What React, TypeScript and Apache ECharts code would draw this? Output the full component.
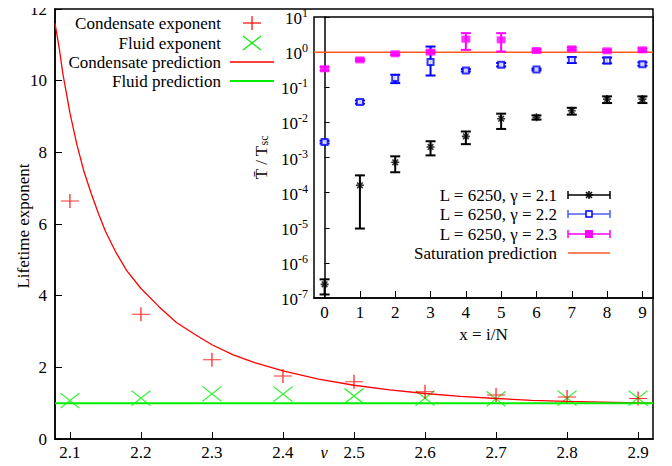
import { useEffect, useRef } from 'react';
import * as echarts from 'echarts';

const FONT = "'Liberation Serif', 'Times New Roman', Times, serif";

// ---- main plot data ----
const gammaValues = [2.1, 2.2, 2.3, 2.4, 2.5, 2.6, 2.7, 2.8, 2.9];
const condensateExponent = [6.64, 3.48, 2.21, 1.76, 1.6, 1.32, 1.23, 1.17, 1.13];
const fluidExponent = [1.07, 1.14, 1.26, 1.25, 1.2, 1.14, 1.12, 1.14, 1.14];
const predictionGamma = [2.079, 2.085, 2.09, 2.095, 2.1, 2.11, 2.12, 2.13, 2.14, 2.15, 2.165, 2.18, 2.2, 2.225, 2.25, 2.275, 2.3, 2.33, 2.36, 2.4, 2.45, 2.5, 2.55, 2.6, 2.65, 2.7, 2.75, 2.8, 2.85, 2.9, 2.921];
const condensatePrediction = [11.6, 10.9, 10.2, 9.65, 9.1, 8.2, 7.45, 6.85, 6.3, 5.8, 5.2, 4.7, 4.2, 3.7, 3.25, 2.93, 2.63, 2.35, 2.13, 1.9, 1.67, 1.5, 1.37, 1.27, 1.19, 1.13, 1.08, 1.05, 1.03, 1.01, 1.0];
const fluidPrediction = 1.0;
const mainYTicks = [0, 2, 4, 6, 8, 10, 12];
const GAMMA_MIN = 2.079;
const GAMMA_MAX = 2.921;

// ---- inset data ----
const insetX = [0, 1, 2, 3, 4, 5, 6, 7, 8, 9];
const insetYTicks = [1e-7, 1e-6, 1e-5, 1e-4, 1e-3, 1e-2, 1e-1, 1, 10];
const g21Value = [2.45e-7, 1.62e-4, 7.3e-4, 2.0e-3, 4.0e-3, 1.27e-2, 1.39e-2, 2.15e-2, 4.6e-2, 4.6e-2];
const g21Low = [1.26e-7, 9.5e-6, 3.8e-4, 1.15e-3, 2.4e-3, 6.5e-3, 1.2e-2, 1.66e-2, 3.55e-2, 3.55e-2];
const g21High = [3.4e-7, 3.1e-4, 1.08e-3, 2.9e-3, 5.5e-3, 1.77e-2, 1.58e-2, 2.6e-2, 5.5e-2, 5.5e-2];
const g22Value = [2.76e-3, 3.8e-2, 0.182, 0.52, 0.3, 0.435, 0.32, 0.6, 0.58, 0.455];
const g22Low = [2.5e-3, 3.4e-2, 0.131, 0.216, 0.28, 0.39, 0.3, 0.49, 0.48, 0.41];
const g22High = [3.0e-3, 4.2e-2, 0.227, 1.44, 0.33, 0.49, 0.34, 0.72, 0.7, 0.51];
const g23Value = [0.335, 0.6, 0.895, 1.0, 2.34, 2.23, 1.11, 1.24, 1.09, 1.16];
const g23Low = [0.3, 0.56, 0.83, 0.92, 1.16, 1.04, 1.03, 1.14, 1.0, 1.06];
const g23High = [0.38, 0.65, 0.97, 1.1, 3.47, 3.47, 1.2, 1.36, 1.18, 1.27];
const saturationPrediction = 1.0;

const RED = '#ff0000';
const GREEN = '#00ee00';
const BLUE = '#0000ff';
const MAGENTA = '#ff00ff';
const ORANGE = '#ff5a1e';

const PLUS = 'path://M0,7L18,7M9,0L9,14';
const CROSS = 'path://M0,0L19,15M0,15L19,0';
const STAR = 'path://M0,5L10,5M5,0L5,10M1.5,1.5L8.5,8.5M8.5,1.5L1.5,8.5';

const errorRender = (color: string) => (params: any, api: any) => {
  const x = api.value(0);
  const top = api.coord([x, api.value(3)]);
  const bot = api.coord([x, api.value(2)]);
  const hw = 5;
  const style = { stroke: color, lineWidth: 2 };
  return {
    type: 'group',
    children: [
      { type: 'line', shape: { x1: top[0], y1: top[1], x2: bot[0], y2: bot[1] }, style },
      { type: 'line', shape: { x1: top[0] - hw, y1: top[1], x2: top[0] + hw, y2: top[1] }, style },
      { type: 'line', shape: { x1: bot[0] - hw, y1: bot[1], x2: bot[0] + hw, y2: bot[1] }, style },
    ],
  };
};

const textStyle = { fontFamily: FONT, fontSize: 17, fill: '#000' };
const RICH_T = { fontFamily: FONT, fontSize: 17, color: '#000' };

// tick labels of the main axes, placed through the axes' own scales
const yTickLabelRender = (params: any, api: any) => {
  const p = api.coord([api.value(0), api.value(1)]);
  return {
    type: 'text',
    x: p[0] - 8,
    y: p[1],
    style: { ...textStyle, text: String(api.value(1)), align: 'right', verticalAlign: 'middle' },
  };
};
const xTickLabelRender = (params: any, api: any) => {
  const p = api.coord([api.value(0), api.value(1)]);
  return {
    type: 'text',
    x: p[0],
    y: p[1] + 5,
    style: { ...textStyle, text: Number(api.value(0)).toFixed(1), align: 'center', verticalAlign: 'top' },
  };
};

function legendText(text: string, x: number, y: number) {
  return {
    type: 'text',
    x,
    y,
    style: { ...textStyle, text, align: 'right', verticalAlign: 'middle' },
  };
}

function hline(x1: number, x2: number, y: number, color: string, w: number) {
  return { type: 'line', shape: { x1, y1: y, x2, y2: y }, style: { stroke: color, lineWidth: w } };
}
function seg(x1: number, y1: number, x2: number, y2: number, color: string, w: number) {
  return { type: 'line', shape: { x1, y1, x2, y2 }, style: { stroke: color, lineWidth: w } };
}

function errLegend(y: number, lineColor: string) {
  return [
    hline(568, 610, y, lineColor, 1.5),
    seg(568, y - 4, 568, y + 4, lineColor, 1.5),
    seg(610, y - 4, 610, y + 4, lineColor, 1.5),
  ];
}

export default function App() {
  const ref = useRef<HTMLDivElement>(null);
  useEffect(() => {
    if (!ref.current) return;
    const chart = echarts.init(ref.current, null, { renderer: 'svg' });
    const labelBase = { color: '#000', fontFamily: FONT, fontSize: 17, rich: { t: RICH_T } };

    const rows = [195, 214, 234, 253];
    const mrows = [23, 43, 62, 81];

    chart.setOption({
      animation: false,
      backgroundColor: '#fff',
      textStyle: { fontFamily: FONT, fontSize: 17, color: '#000' },
      grid: [
        { left: 55, right: 19, top: 9, bottom: 27, show: true, borderColor: '#000', borderWidth: 1.5, backgroundColor: 'transparent', containLabel: false, outerBoundsMode: 'none' },
        { left: 314, right: 19, top: 17, bottom: 168, show: true, borderColor: '#000', borderWidth: 1.5, backgroundColor: '#fff', containLabel: false, outerBoundsMode: 'none' },
      ],
      xAxis: [
        {
          gridIndex: 0,
          type: 'value',
          min: GAMMA_MIN,
          max: GAMMA_MAX,
          axisLine: { show: true, lineStyle: { color: '#000', width: 1.5 } },
          axisTick: { show: true, inside: true, length: 7, customValues: gammaValues, lineStyle: { color: '#000', width: 1 } },
          axisLabel: { show: false },
          splitLine: { show: false },
        },
        {
          gridIndex: 1,
          type: 'value',
          min: -0.3,
          max: 9.3,
          name: '{t|x = i/N}',
          nameLocation: 'middle',
          nameGap: 24,
          nameTextStyle: { ...labelBase },
          axisLine: { show: true, lineStyle: { color: '#000', width: 1.5 } },
          axisTick: { show: true, inside: true, length: 7, customValues: insetX, lineStyle: { color: '#000', width: 1 } },
          axisLabel: { ...labelBase, customValues: insetX, margin: 6, formatter: (v: number) => `{t|${v}}` },
          splitLine: { show: false },
        },
      ],
      yAxis: [
        {
          gridIndex: 0,
          type: 'value',
          min: 0,
          max: 12,
          axisLine: { show: true, lineStyle: { color: '#000', width: 1.5 } },
          axisTick: { show: true, inside: true, length: 7, customValues: mainYTicks, lineStyle: { color: '#000', width: 1 } },
          axisLabel: { show: false },
          splitLine: { show: false },
        },
        {
          gridIndex: 1,
          type: 'log',
          logBase: 10,
          min: 1e-7,
          max: 10,
          name: '{a|T\u0304 / T}{s|sc}',
          nameLocation: 'middle',
          nameGap: 44,
          nameTextStyle: {
            fontFamily: FONT,
            rich: {
              a: { fontFamily: FONT, fontSize: 17, color: '#000' },
              s: { fontFamily: FONT, fontSize: 12, color: '#000', verticalAlign: 'bottom', lineHeight: 12 },
            },
          },
          axisLine: { show: true, lineStyle: { color: '#000', width: 1.5 } },
          axisTick: { show: true, inside: true, length: 5, customValues: insetYTicks, lineStyle: { color: '#000', width: 1 } },
          axisLabel: {
            fontFamily: FONT,
            customValues: insetYTicks,
            margin: 6,
            formatter: (v: number) => `{b|10}{s|${Math.round(Math.log10(v))}}`,
            rich: {
              b: { fontFamily: FONT, fontSize: 17, color: '#000', lineHeight: 20, verticalAlign: 'bottom' },
              s: { fontFamily: FONT, fontSize: 12, color: '#000', lineHeight: 12, verticalAlign: 'top' },
            },
          },
          splitLine: { show: false },
        },
      ],
      series: [
        {
          type: 'custom',
          xAxisIndex: 0,
          yAxisIndex: 0,
          renderItem: yTickLabelRender,
          data: mainYTicks.map((v) => [GAMMA_MIN, v]),
          clip: false,
          silent: true,
          z: 10,
        },
        {
          type: 'custom',
          xAxisIndex: 0,
          yAxisIndex: 0,
          renderItem: xTickLabelRender,
          data: gammaValues.map((g) => [g, 0]),
          clip: false,
          silent: true,
          z: 10,
        },
        {
          name: 'Condensate prediction',
          type: 'line',
          xAxisIndex: 0,
          yAxisIndex: 0,
          data: predictionGamma.map((g, i) => [g, condensatePrediction[i]]),
          smooth: false,
          symbol: 'none',
          lineStyle: { color: RED, width: 1.3 },
        },
        {
          name: 'Fluid prediction',
          type: 'line',
          xAxisIndex: 0,
          yAxisIndex: 0,
          data: [[GAMMA_MIN, fluidPrediction], [GAMMA_MAX, fluidPrediction]],
          symbol: 'none',
          lineStyle: { color: GREEN, width: 2 },
        },
        {
          name: 'Fluid exponent',
          type: 'scatter',
          xAxisIndex: 0,
          yAxisIndex: 0,
          data: gammaValues.map((g, i) => [g, fluidExponent[i]]),
          symbol: CROSS,
          symbolSize: [19, 15],
          itemStyle: { color: 'rgba(0,0,0,0)', borderColor: GREEN, borderWidth: 1.2 },
        },
        {
          name: 'Condensate exponent',
          type: 'scatter',
          xAxisIndex: 0,
          yAxisIndex: 0,
          data: gammaValues.map((g, i) => [g, condensateExponent[i]]),
          symbol: PLUS,
          symbolSize: [18, 14],
          itemStyle: { color: 'rgba(0,0,0,0)', borderColor: RED, borderWidth: 1.2 },
        },
        {
          name: 'Saturation prediction',
          type: 'line',
          xAxisIndex: 1,
          yAxisIndex: 1,
          data: [[-0.3, saturationPrediction], [9.3, saturationPrediction]],
          symbol: 'none',
          lineStyle: { color: ORANGE, width: 1.5 },
          z: 3,
        },
        {
          type: 'custom',
          xAxisIndex: 1,
          yAxisIndex: 1,
          renderItem: errorRender('#000'),
          encode: { x: 0, y: [1, 2, 3] },
          data: insetX.map((x, i) => [x, g21Value[i], g21Low[i], g21High[i]]),
          z: 4,
        },
        {
          type: 'custom',
          xAxisIndex: 1,
          yAxisIndex: 1,
          renderItem: errorRender(BLUE),
          encode: { x: 0, y: [1, 2, 3] },
          data: insetX.map((x, i) => [x, g22Value[i], g22Low[i], g22High[i]]),
          z: 4,
        },
        {
          type: 'custom',
          xAxisIndex: 1,
          yAxisIndex: 1,
          renderItem: errorRender(MAGENTA),
          encode: { x: 0, y: [1, 2, 3] },
          data: insetX.map((x, i) => [x, g23Value[i], g23Low[i], g23High[i]]),
          z: 4,
        },
        {
          type: 'scatter',
          xAxisIndex: 1,
          yAxisIndex: 1,
          data: insetX.map((x, i) => [x, g21Value[i]]),
          symbol: STAR,
          symbolSize: 8,
          itemStyle: { color: 'rgba(0,0,0,0)', borderColor: '#000', borderWidth: 1.6 },
          z: 5,
        },
        {
          type: 'scatter',
          xAxisIndex: 1,
          yAxisIndex: 1,
          data: insetX.map((x, i) => [x, g22Value[i]]),
          symbol: 'emptyRect',
          symbolSize: 6,
          itemStyle: { color: BLUE, borderColor: BLUE, borderWidth: 1.5 },
          z: 5,
        },
        {
          type: 'scatter',
          xAxisIndex: 1,
          yAxisIndex: 1,
          data: insetX.map((x, i) => [x, g23Value[i]]),
          symbol: 'rect',
          symbolSize: [9, 7],
          itemStyle: { color: MAGENTA },
          z: 5,
        },
      ],
      graphic: [
        {
          type: 'text',
          x: 23,
          y: 226,
          rotation: Math.PI / 2,
          style: { ...textStyle, text: 'Lifetime exponent', align: 'center', verticalAlign: 'middle' },
        },
        {
          type: 'text',
          x: 324,
          y: 452,
          style: { ...textStyle, text: 'γ', align: 'center', verticalAlign: 'middle', fontStyle: 'italic' },
        },
        // main legend
        legendText('Condensate exponent', 221, mrows[0]),
        legendText('Fluid exponent', 221, mrows[1]),
        legendText('Condensate prediction', 221, mrows[2]),
        legendText('Fluid prediction', 221, mrows[3]),
        seg(243, mrows[0], 261, mrows[0], RED, 1.2),
        seg(252, mrows[0] - 7, 252, mrows[0] + 7, RED, 1.2),
        seg(243, mrows[1] - 7, 261, mrows[1] + 7, GREEN, 1.2),
        seg(243, mrows[1] + 7, 261, mrows[1] - 7, GREEN, 1.2),
        hline(230, 274, mrows[2], RED, 1.3),
        hline(230, 274, mrows[3], GREEN, 2),
        // inset legend
        legendText('L = 6250, γ = 2.1', 557, rows[0]),
        legendText('L = 6250, γ = 2.2', 557, rows[1]),
        legendText('L = 6250, γ = 2.3', 557, rows[2]),
        legendText('Saturation prediction', 557, rows[3]),
        ...errLegend(rows[0], '#000'),
        seg(585, rows[0], 593, rows[0], '#000', 1.5),
        seg(589, rows[0] - 4, 589, rows[0] + 4, '#000', 1.5),
        seg(586, rows[0] - 3, 592, rows[0] + 3, '#000', 1.5),
        seg(586, rows[0] + 3, 592, rows[0] - 3, '#000', 1.5),
        ...errLegend(rows[1], '#4a5cff'),
        { type: 'rect', shape: { x: 586, y: rows[1] - 3, width: 6, height: 6 }, style: { fill: '#fff', stroke: BLUE, lineWidth: 1.5 } },
        ...errLegend(rows[2], MAGENTA),
        { type: 'rect', shape: { x: 585, y: rows[2] - 4, width: 8, height: 8 }, style: { fill: MAGENTA } },
        hline(568, 610, rows[3], ORANGE, 1.5),
      ],
    });
    return () => chart.dispose();
  }, []);
  return <div ref={ref} style={{ width: 672, height: 466, margin: -8 }} />;
}
